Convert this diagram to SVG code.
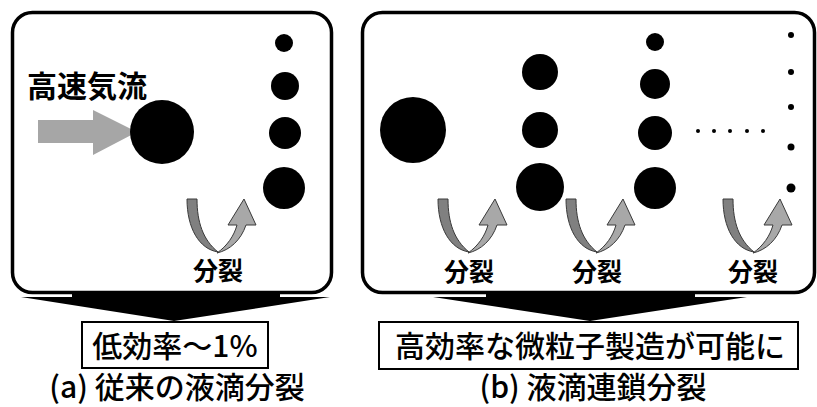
<svg xmlns="http://www.w3.org/2000/svg" width="817" height="407" viewBox="0 0 817 407">
<style>
.panel{fill:#fff;stroke:#000;stroke-width:3.5}
.box{fill:#fff;stroke:#000;stroke-width:2}
.t{font-family:"Noto Sans CJK JP","Noto Sans",sans-serif;fill:#000}
.big{font-size:30px;font-weight:500}
.sp{font-size:25px;font-weight:bold;text-anchor:middle}
.dk{fill:#808080;stroke:#3a3a3a;stroke-width:1}
.lt{fill:#a8a8a8;stroke:#3a3a3a;stroke-width:1}
</style>
<defs>
<g id="curl">
<path class="dk" d="M17,19 L27,19 C27,42 33,60 48,72 C29,69 17,48 17,19 Z"/>
<path class="lt" d="M47,73 C60,70 71,60 76,45 L86,45 L74,19 L58,45 L67,45 C64,56 57,66 47,73 Z"/>
</g>
</defs>
<rect width="817" height="407" fill="#fff"/>
<g id="connectors">
<path d="M72,292 L280,292 L280,297 L330,297 L174,321 L21,297 L72,297 Z" fill="#000"/>
<path d="M486,292 L695,292 L695,297 L747,297 L590,321 L433,297 L486,297 Z" fill="#000"/>
</g>
<g id="panelA">
<rect class="panel" x="12.5" y="12.5" width="319" height="280" rx="20"/>
<text class="t" x="27" y="97" font-size="30" font-weight="bold">高速気流</text>
<polygon points="38,120 93,120 93,110 137,132 93,155 93,143 38,143" fill="#a6a6a6"/>
<circle cx="162" cy="132" r="32"/>
<circle cx="284" cy="43" r="9"/>
<circle cx="285" cy="86" r="14"/>
<circle cx="285" cy="133" r="16"/>
<circle cx="284" cy="188" r="21"/>
<use href="#curl" x="170" y="180"/>
<text class="t sp" x="218" y="280">分裂</text>
</g>
<g id="panelB">
<rect class="panel" x="362.5" y="12.5" width="452" height="280" rx="20"/>
<circle cx="413" cy="130" r="33"/>
<circle cx="540" cy="72" r="18"/>
<circle cx="540" cy="130" r="18"/>
<circle cx="540" cy="187" r="24"/>
<circle cx="655" cy="42" r="9"/>
<circle cx="655" cy="84" r="15"/>
<circle cx="655" cy="133" r="17"/>
<circle cx="655" cy="188" r="21"/>
<circle cx="698" cy="131" r="2"/>
<circle cx="714" cy="131" r="2"/>
<circle cx="730" cy="131" r="2"/>
<circle cx="747" cy="131" r="2"/>
<circle cx="763" cy="131" r="2"/>
<circle cx="791" cy="35" r="3"/>
<circle cx="791" cy="72" r="3"/>
<circle cx="791" cy="107" r="3"/>
<circle cx="791" cy="147" r="3.5"/>
<circle cx="791" cy="188" r="4.5"/>
<use href="#curl" x="421" y="180"/>
<use href="#curl" x="549" y="180"/>
<use href="#curl" x="706" y="180"/>
<text class="t sp" x="469" y="281">分裂</text>
<text class="t sp" x="597" y="281">分裂</text>
<text class="t sp" x="753" y="281">分裂</text>
</g>
<g id="resultA">
<rect class="box" x="82" y="322" width="186" height="46"/>
<text class="t big" x="175" y="357" text-anchor="middle">低効率～1%</text>
</g>
<g id="resultB">
<rect class="box" x="379" y="322" width="419" height="47"/>
<text class="t big" x="590" y="357" text-anchor="middle">高効率な微粒子製造が可能に</text>
</g>
<g id="captionA">
<text class="t big" x="177" y="398" text-anchor="middle">(a) 従来の液滴分裂</text>
</g>
<g id="captionB">
<text class="t big" x="593" y="398" text-anchor="middle">(b) 液滴連鎖分裂</text>
</g>
</svg>
